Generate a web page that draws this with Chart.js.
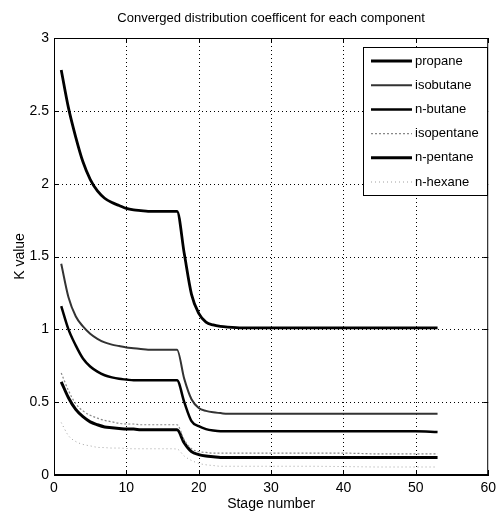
<!DOCTYPE html>
<html>
<head>
<meta charset="utf-8">
<script src="https://cdn.jsdelivr.net/npm/chart.js@4.4.0/dist/chart.umd.min.js"></script>
<style>
body { margin: 0; background: #fff; }
#wrap { width: 501px; height: 519px; }
</style>
</head>
<body>
<div id="wrap"><canvas id="mycanvas" width="501" height="519"></canvas></div>
<script>
var FONT = "'Liberation Sans', Arial, sans-serif";

var stages = [1,2,3,4,5,6,7,8,9,10,11,12,13,14,15,16,17,18,19,20,21,22,23,24,26,30,35,40,45,50,53];
var propane = [2.78,2.52,2.32,2.15,2.03,1.95,1.90,1.87,1.85,1.83,1.82,1.815,1.81,1.81,1.81,1.81,1.81,1.52,1.24,1.11,1.05,1.03,1.02,1.015,1.01,1.01,1.01,1.01,1.01,1.01,1.01];
var isobutane = [1.45,1.22,1.09,1.02,0.97,0.935,0.91,0.895,0.885,0.875,0.87,0.865,0.86,0.86,0.86,0.86,0.86,0.66,0.52,0.46,0.44,0.43,0.425,0.42,0.42,0.42,0.42,0.42,0.42,0.42,0.42];
var nbutane = [1.16,1.00,0.89,0.80,0.745,0.71,0.685,0.67,0.66,0.655,0.65,0.65,0.65,0.65,0.65,0.65,0.65,0.50,0.37,0.335,0.315,0.305,0.30,0.30,0.30,0.30,0.30,0.30,0.30,0.30,0.295];
var isopentane = [0.70,0.58,0.49,0.44,0.41,0.39,0.375,0.365,0.355,0.35,0.35,0.345,0.345,0.345,0.345,0.345,0.345,0.24,0.18,0.16,0.155,0.15,0.15,0.15,0.15,0.15,0.15,0.15,0.145,0.145,0.145];
var npentane = [0.64,0.53,0.45,0.40,0.365,0.345,0.33,0.325,0.32,0.315,0.315,0.31,0.31,0.31,0.31,0.31,0.31,0.22,0.16,0.14,0.13,0.125,0.12,0.12,0.12,0.12,0.12,0.12,0.12,0.12,0.12];
var nhexane = [0.36,0.27,0.23,0.21,0.20,0.19,0.188,0.185,0.185,0.182,0.18,0.18,0.18,0.18,0.18,0.18,0.178,0.13,0.10,0.08,0.07,0.065,0.06,0.06,0.06,0.06,0.06,0.058,0.055,0.055,0.055];

var xTicks = [0,10,20,30,40,50,60];
var yTicks = [0,0.5,1,1.5,2,2.5,3];
var titleText = 'Converged distribution coefficent for each component';

function pts(vals) {
	var out = [];
	for (var i in stages) {
		out.push({x: stages[i], y: vals[i]});
	}
	return out;
}

function series(label, vals, color, width, dash) {
	return {
		label: label,
		data: pts(vals),
		borderColor: color,
		borderWidth: width,
		borderDash: dash,
		pointRadius: 0,
		fill: false,
		cubicInterpolationMode: 'monotone'
	};
}

// matlab style: dotted grid, full box, inward ticks, title over the axes, legend inside
var boxPlugin = {
	id: 'box',
	beforeDatasetsDraw: function(chart) {
		var ctx = chart.ctx;
		var a = chart.chartArea;
		var xs = chart.scales.x, ys = chart.scales.y;
		ctx.save();
		ctx.strokeStyle = '#000';
		ctx.lineWidth = 1;
		ctx.setLineDash([1, 3]);
		ctx.beginPath();
		xTicks.slice(1, -1).forEach(function(v) {
			var px = Math.round(xs.getPixelForValue(v)) + 0.5;
			ctx.moveTo(px, a.top); ctx.lineTo(px, a.bottom);
		});
		yTicks.slice(1, -1).forEach(function(v) {
			var py = Math.round(ys.getPixelForValue(v)) + 0.5;
			ctx.moveTo(a.left, py); ctx.lineTo(a.right, py);
		});
		ctx.stroke();
		ctx.restore();
	},
	afterDraw: function(chart) {
		var ctx = chart.ctx;
		var a = chart.chartArea;
		var xs = chart.scales.x, ys = chart.scales.y;
		ctx.save();
		ctx.strokeStyle = '#000';
		ctx.lineWidth = 1;
		ctx.setLineDash([]);
		ctx.strokeRect(a.left + 0.5, a.top + 0.5, a.right - a.left - 1, a.bottom - a.top - 1);
		ctx.beginPath();
		xTicks.forEach(function(v) {
			var px = Math.round(xs.getPixelForValue(v)) + 0.5;
			ctx.moveTo(px, a.bottom); ctx.lineTo(px, a.bottom - 5);
			ctx.moveTo(px, a.top); ctx.lineTo(px, a.top + 5);
		});
		yTicks.forEach(function(v) {
			var py = Math.round(ys.getPixelForValue(v)) + 0.5;
			ctx.moveTo(a.left, py); ctx.lineTo(a.left + 5, py);
			ctx.moveTo(a.right, py); ctx.lineTo(a.right - 5, py);
		});
		ctx.stroke();

		// title, centred over the axes
		ctx.fillStyle = '#000';
		ctx.font = '13px ' + FONT;
		ctx.textAlign = 'center';
		ctx.textBaseline = 'middle';
		ctx.fillText(titleText, (a.left + a.right) / 2, 18);

		// legend
		var lx = 363, ly = 47, lw = 124, lh = 148;
		ctx.fillStyle = '#fff';
		ctx.fillRect(lx, ly, lw, lh);
		ctx.strokeRect(lx + 0.5, ly + 0.5, lw, lh);
		ctx.font = '13px ' + FONT;
		ctx.textAlign = 'left';
		chart.data.datasets.forEach(function(ds, i) {
			var y = 61 + i * 24.2;
			ctx.beginPath();
			ctx.strokeStyle = ds.borderColor;
			ctx.lineWidth = ds.borderWidth;
			ctx.setLineDash(ds.borderDash || []);
			ctx.moveTo(371, y); ctx.lineTo(412, y);
			ctx.stroke();
			ctx.fillStyle = '#000';
			ctx.fillText(ds.label, 415, y);
		});
		ctx.restore();
	}
};

var ctx = document.getElementById('mycanvas');

var chart = new Chart(ctx, {
	type: 'line',
	data: {
		datasets: [
			series('propane', propane, '#000', 2.8, []),
			series('isobutane', isobutane, '#333', 2, []),
			series('n-butane', nbutane, '#000', 2.5, []),
			series('isopentane', isopentane, '#888', 1.2, [2, 2]),
			series('n-pentane', npentane, '#000', 3, []),
			series('n-hexane', nhexane, '#a0a0a0', 1, [1, 3])
		]
	},
	plugins: [boxPlugin],
	options: {
		responsive: false,
		animation: false,
		layout: { padding: { left: 0, right: 9, top: 38, bottom: 0 } },
		plugins: {
			legend: { display: false },
			tooltip: { enabled: false },
			title: { display: false }
		},
		scales: {
			x: {
				type: 'linear',
				min: 0,
				max: 60,
				afterFit: function(s) { s.height = 44; },
				ticks: { stepSize: 10, padding: 5, color: '#000', font: { family: FONT, size: 14 }, maxRotation: 0 },
				grid: { display: false, drawTicks: false },
				border: { display: true, color: '#000', width: 1 },
				title: { display: true, text: 'Stage number', color: '#000', font: { family: FONT, size: 14 }, padding: { top: 0, bottom: 6 } }
			},
			y: {
				min: 0,
				max: 3,
				afterFit: function(s) { s.width = 54; },
				ticks: {
					stepSize: 0.5,
					padding: 5,
					color: '#000',
					font: { family: FONT, size: 14 },
					callback: function(v) { return String(Math.round(v * 10) / 10); }
				},
				grid: { display: false, drawTicks: false },
				border: { display: true, color: '#000', width: 1 },
				title: { display: true, text: 'K value', color: '#000', font: { family: FONT, size: 14 }, padding: { top: 12, bottom: 0 } }
			}
		}
	}
});
</script>
</body>
</html>
